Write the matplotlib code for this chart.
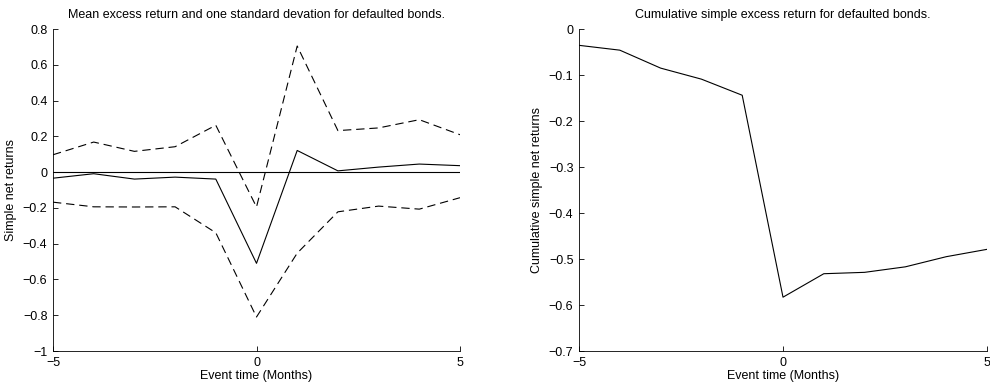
import numpy as np
import matplotlib
matplotlib.use("Agg")
import matplotlib.pyplot as plt

plt.rcParams["font.family"] = ["Liberation Sans", "DejaVu Sans"]
plt.rcParams["font.size"] = 9
plt.rcParams["lines.scale_dashes"] = False

event_time = [-5, -4, -3, -2, -1, 0, 1, 2, 3, 4, 5]
mean_ret = [-0.034, -0.009, -0.039, -0.028, -0.039, -0.51, 0.121, 0.007, 0.028, 0.045, 0.036]
upper_band = [0.097, 0.168, 0.116, 0.142, 0.262, -0.195, 0.705, 0.232, 0.247, 0.293, 0.209]
lower_band = [-0.168, -0.194, -0.195, -0.194, -0.339, -0.81, -0.453, -0.222, -0.19, -0.207, -0.143]
cum_ret = [-0.0355, -0.046, -0.085, -0.109, -0.144, -0.583, -0.532, -0.529, -0.517, -0.495, -0.479]

left_yticks = [-1, -0.8, -0.6, -0.4, -0.2, 0, 0.2, 0.4, 0.6, 0.8]
right_yticks = [-0.7, -0.6, -0.5, -0.4, -0.3, -0.2, -0.1, 0]
xticks = [-5, 0, 5]


def fmt(v):
    s = ("%g" % v)
    return s.replace("-", "\u2212")


def style(ax):
    ax.spines["top"].set_visible(False)
    ax.spines["right"].set_visible(False)
    ax.tick_params(direction="in", length=3.5, width=0.6, labelsize=9, pad=4)
    for s in ["left", "bottom"]:
        ax.spines[s].set_linewidth(0.6)


fig = plt.figure(figsize=(9.9, 3.85), dpi=100)
W, H = 990, 385
ax1 = fig.add_axes([53 / W, 1 - 351 / H, (460 - 53) / W, (351 - 29) / H])
ax2 = fig.add_axes([579 / W, 1 - 351 / H, (987 - 579) / W, (351 - 29) / H])

ax1.plot(event_time, mean_ret, color="black", lw=0.8)
ax1.plot(event_time, upper_band, color="black", lw=0.8, dashes=(6, 3.5))
ax1.plot(event_time, lower_band, color="black", lw=0.8, dashes=(6, 3.5))
ax1.plot([event_time[0], event_time[-1]], [0, 0], color="black", lw=0.8)
ax1.set_xlim(-5, 5)
ax1.set_ylim(-1, 0.8)
ax1.set_xticks(xticks)
ax1.set_xticklabels([fmt(v) for v in xticks])
ax1.set_yticks(left_yticks)
ax1.set_yticklabels([fmt(v) for v in left_yticks])
ax1.set_xlabel("Event time (Months)", labelpad=1)
ax1.set_ylabel("Simple net returns", labelpad=4)
ax1.set_title("Mean excess return and one standard devation for defaulted bonds.", fontsize=9, pad=8)
style(ax1)

ax2.plot(event_time, cum_ret, color="black", lw=0.8)
ax2.set_xlim(-5, 5)
ax2.set_ylim(-0.7, 0)
ax2.set_xticks(xticks)
ax2.set_xticklabels([fmt(v) for v in xticks])
ax2.set_yticks(right_yticks)
ax2.set_yticklabels([fmt(v) for v in right_yticks])
ax2.set_xlabel("Event time (Months)", labelpad=1)
ax2.set_ylabel("Cumulative simple net returns", labelpad=4)
ax2.set_title("Cumulative simple excess return for defaulted bonds.", fontsize=9, pad=8)
style(ax2)

fig.savefig("out.png", dpi=100)
